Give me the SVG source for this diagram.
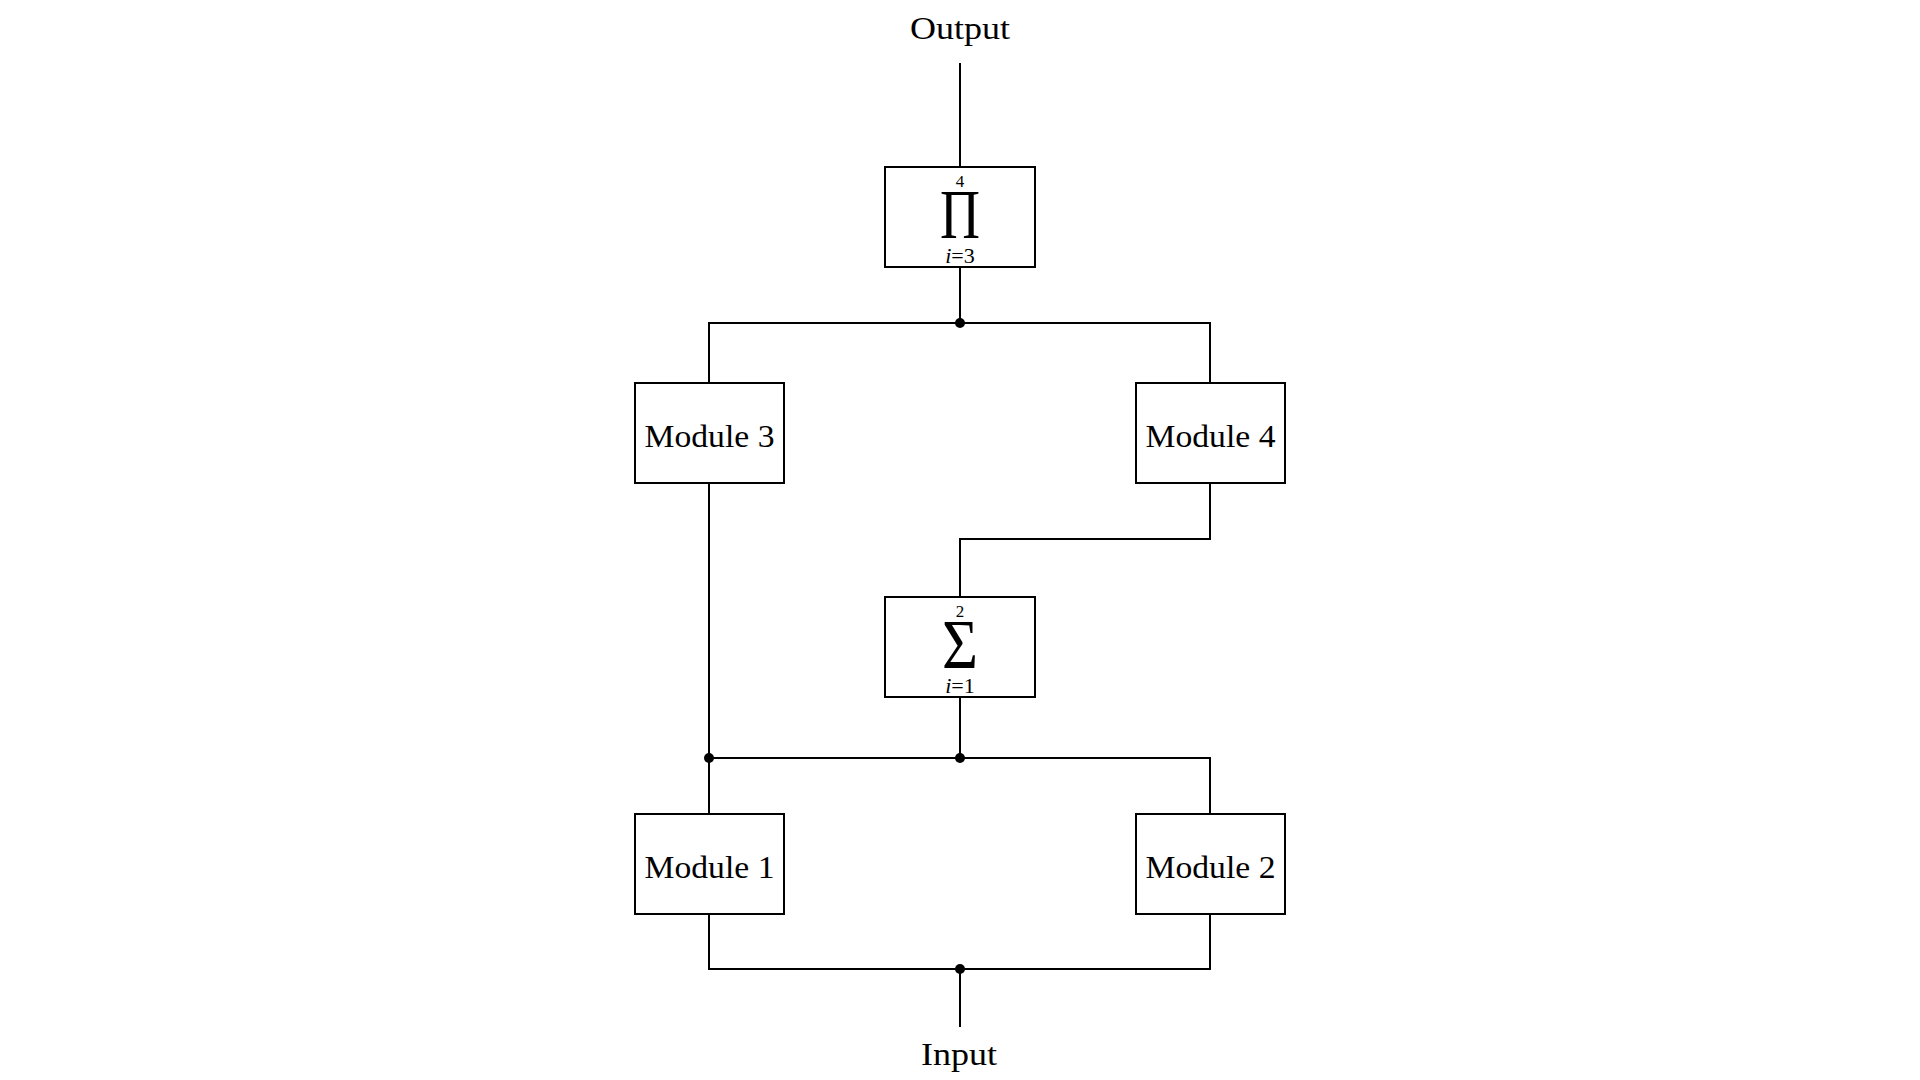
<svg xmlns="http://www.w3.org/2000/svg" width="1920" height="1080" viewBox="0 0 1920 1080">
<style>
.box{fill:#fff;stroke:#000;stroke-width:2}
.wire{fill:none;stroke:#000;stroke-width:2}
.dot{fill:#000}
.lbl{font-family:"Liberation Serif","Times New Roman",serif;font-size:32px;fill:#000;text-anchor:middle}
.sm{font-family:"Liberation Serif","Times New Roman",serif;font-size:22px;fill:#000;text-anchor:middle}
.sup{font-family:"Liberation Serif","Times New Roman",serif;font-size:17px;fill:#000;text-anchor:middle}
.big{font-family:"Liberation Serif","Times New Roman",serif;font-size:69px;fill:#000;text-anchor:middle}
</style>
<rect width="1920" height="1080" fill="#fff"/>
<g id="connectors">
<path class="wire" d="M960 63V167"/>
<path class="wire" d="M960 267V323"/>
<path class="wire" d="M709 383V323H1210V383"/>
<path class="wire" d="M1210 483V539H960V597"/>
<path class="wire" d="M960 697V758"/>
<path class="wire" d="M709 483V814"/>
<path class="wire" d="M709 758H1210V814"/>
<path class="wire" d="M709 914V969H1210V914"/>
<path class="wire" d="M960 969V1027"/>
<circle class="dot" cx="960" cy="323" r="5"/>
<circle class="dot" cx="709" cy="758" r="5"/>
<circle class="dot" cx="960" cy="758" r="5"/>
<circle class="dot" cx="960" cy="969" r="5"/>
</g>
<g id="output"><text class="lbl" x="960" y="39" textLength="100" lengthAdjust="spacingAndGlyphs">Output</text></g>
<g id="input"><text class="lbl" x="959" y="1065" textLength="76" lengthAdjust="spacingAndGlyphs">Input</text></g>
<g id="product">
<rect class="box" x="885" y="167" width="150" height="100"/>
<text class="sup" x="960" y="187">4</text>
<text class="big" x="960" y="238" textLength="40" lengthAdjust="spacingAndGlyphs">Π</text>
<text class="sm" x="960" y="263"><tspan font-style="italic">i</tspan>=3</text>
</g>
<g id="sum">
<rect class="box" x="885" y="597" width="150" height="100"/>
<text class="sup" x="960" y="617">2</text>
<text class="big" x="960" y="668" textLength="36" lengthAdjust="spacingAndGlyphs">Σ</text>
<text class="sm" x="960" y="693"><tspan font-style="italic">i</tspan>=1</text>
</g>
<g id="module3">
<rect class="box" x="635" y="383" width="149" height="100"/>
<text class="lbl" x="709.5" y="447" textLength="130" lengthAdjust="spacingAndGlyphs">Module 3</text>
</g>
<g id="module4">
<rect class="box" x="1136" y="383" width="149" height="100"/>
<text class="lbl" x="1210.5" y="447" textLength="130" lengthAdjust="spacingAndGlyphs">Module 4</text>
</g>
<g id="module1">
<rect class="box" x="635" y="814" width="149" height="100"/>
<text class="lbl" x="709.5" y="878" textLength="130" lengthAdjust="spacingAndGlyphs">Module 1</text>
</g>
<g id="module2">
<rect class="box" x="1136" y="814" width="149" height="100"/>
<text class="lbl" x="1210.5" y="878" textLength="130" lengthAdjust="spacingAndGlyphs">Module 2</text>
</g>
</svg>
